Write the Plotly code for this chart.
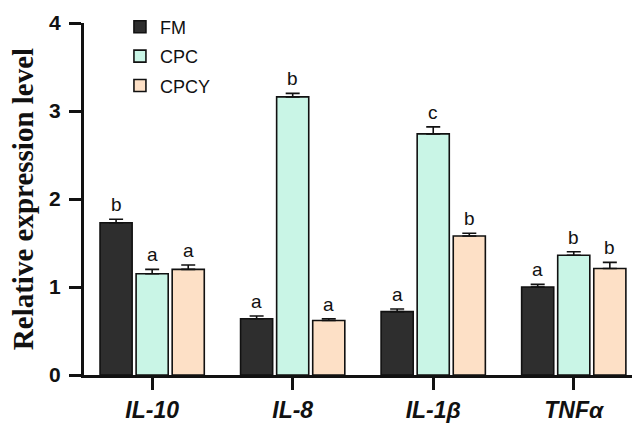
import plotly.graph_objects as go

categories = ["IL-10", "IL-8", "IL-1β", "TNFα"]
groups = ["FM", "CPC", "CPCY"]
fm_vals = [1.73, 0.64, 0.72, 1.00]
fm_err = [0.04, 0.03, 0.03, 0.03]
cpc_vals = [1.15, 3.16, 2.74, 1.36]
cpc_err = [0.05, 0.04, 0.08, 0.04]
cpcy_vals = [1.20, 0.62, 1.58, 1.21]
cpcy_err = [0.05, 0.02, 0.03, 0.07]
fm_letters = ["b", "a", "a", "a"]
cpc_letters = ["a", "b", "c", "b"]
cpcy_letters = ["a", "a", "b", "b"]
y_ticks = [0, 1, 2, 3, 4]
y_title = "Relative expression level"

colors = ["#2e2e2e", "#c9f5e6", "#fde0c6"]
series = [
    (fm_vals, fm_err, fm_letters),
    (cpc_vals, cpc_err, cpc_letters),
    (cpcy_vals, cpcy_err, cpcy_letters),
]

BARGAP = 0.23
GROUPGAP = 0.11
FONT = "Arial, Liberation Sans, sans-serif"

fig = go.Figure()
xidx = list(range(len(categories)))
for j, (name, (vals, errs, _)) in enumerate(zip(groups, series)):
    fig.add_trace(go.Bar(
        name=name, x=xidx, y=vals, legendgroup=name,
        marker=dict(color=colors[j], line=dict(color="#111111", width=1.6)),
        error_y=dict(type="data", array=errs, arrayminus=[0]*len(errs),
                     symmetric=False, color="#111111", thickness=1.6, width=7),
    ))

annotations = []
step = (1 - BARGAP) / 3
for j, (vals, errs, letters) in enumerate(series):
    for i in xidx:
        annotations.append(dict(
            x=i + (j - 1) * step, y=vals[i] + errs[i], xref="x", yref="y",
            text=letters[i], showarrow=False, yanchor="bottom", yshift=2,
            font=dict(family=FONT, size=19, color="#111111"),
        ))

annotations.append(dict(
    text=y_title, xref="paper", yref="paper", x=-0.110, y=0.5,
    xanchor="center", yanchor="middle", textangle=-90, showarrow=False,
    font=dict(family="Times New Roman, Liberation Serif, serif", size=29,
              color="#111111", weight="bold"),
))

# page body has an 8px default margin; size the figure to fit the 640x423 window
fig.update_layout(
    width=632, height=415,
    margin=dict(l=76, r=3, t=15, b=48, autoexpand=False),
    paper_bgcolor="white", plot_bgcolor="white",
    barmode="group", bargap=BARGAP, bargroupgap=GROUPGAP,
    showlegend=True,
    legend=dict(x=0.065, y=1.041, xanchor="left", yanchor="top",
                font=dict(family=FONT, size=18, color="#111111"),
                bgcolor="rgba(0,0,0,0)", itemwidth=30, tracegroupgap=3),
    annotations=annotations,
    xaxis=dict(
        range=[-0.485, 3.45], tickmode="array", tickvals=xidx, ticktext=categories,
        showline=True, linecolor="#111111", linewidth=3,
        ticks="outside", ticklen=12, tickwidth=3, tickcolor="#111111",
        tickfont=dict(family=FONT, size=23, color="#111111", weight="bold", style="italic"),
        showgrid=False, zeroline=False,
    ),
    yaxis=dict(
        range=[0, 4], tickmode="array", tickvals=y_ticks,
        showline=True, linecolor="#111111", linewidth=3,
        ticks="outside", ticklen=12, tickwidth=3, tickcolor="#111111",
        ticklabelstandoff=4,
        tickfont=dict(family=FONT, size=21, color="#111111", weight="bold"),
        showgrid=False, zeroline=False,
    ),
)

fig.write_html("out.html")
